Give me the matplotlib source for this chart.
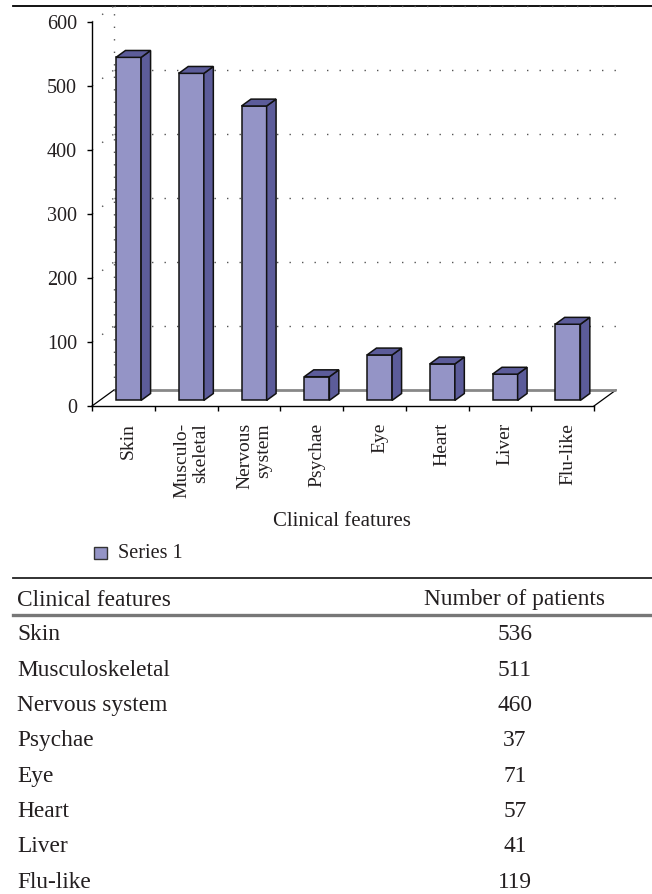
import matplotlib
matplotlib.use("Agg")
import matplotlib.pyplot as plt
import matplotlib.transforms as mtransforms

# --- data ---
categories = ["Skin", "Musculo-\nskeletal", "Nervous\nsystem", "Psychae",
              "Eye", "Heart", "Liver", "Flu-like"]
patients = [536, 511, 460, 37, 71, 57, 41, 119]
table_features = ["Skin", "Musculoskeletal", "Nervous system", "Psychae",
                  "Eye", "Heart", "Liver", "Flu-like"]
y_ticks = [0, 100, 200, 300, 400, 500, 600]
series_name = "Series 1"
x_title = "Clinical features"
table_header = ["Clinical features", "Number of patients"]

# --- style ---
plt.rcParams['font.family'] = ['Liberation Serif', 'DejaVu Serif']
txt_color = '#231f20'
front_col = '#9494c6'
dark_col = '#5c5c9a'
W, H = 652, 894

fig = plt.figure(figsize=(W / 100, H / 100), dpi=100)
fig.patch.set_facecolor('white')

# overlay axes in pixel units for page rules, legend and table
ov = fig.add_axes([0, 0, 1, 1])
ov.set_xlim(0, W)
ov.set_ylim(H, 0)
ov.axis('off')

# chart axes: front plane of the pseudo-3D chart
x0px, x1px, y0px, y1px = 92, 594, 406, 22
ax = fig.add_axes([x0px / W, 1 - y0px / H, (x1px - x0px) / W, (y0px - y1px) / H])
n = len(categories)
ax.set_xlim(0, n)
ax.set_ylim(0, 600)
ax.patch.set_alpha(0)

# depth of the 3D box in data units (22 px right, 16 px up)
DX = 22 * n / (x1px - x0px)
DY = 16 * 600 / (y0px - y1px)

# floor
ax.fill([0, n, n + DX, DX], [0, 0, DY, DY], facecolor='white', edgecolor='none',
        zorder=1, clip_on=False)
ax.plot([0, DX], [0, DY], color='black', lw=0.9, zorder=2, clip_on=False)
ax.plot([n, n + DX], [0, DY], color='black', lw=0.9, zorder=2, clip_on=False)
ax.plot([DX, n + DX], [DY, DY], color='#888888', lw=2.0, zorder=2,
        solid_capstyle='butt', clip_on=False)

# back wall and side wall dotted gridlines
dot = dict(color='#555555', lw=1.0, linestyle=(0, (1, 8)), zorder=1, clip_on=False)
for v in y_ticks[1:]:
    ax.plot([DX, n + DX], [v + DY, v + DY], **dot)
    ax.plot([0, DX], [v, v + DY], **dot)
ax.plot([DX, DX], [DY, 600 + DY], **dot)

# bars
f0, f1 = 0.35, 0.78
bw = 0.4
ddx, ddy = (f1 - f0) * DX, (f1 - f0) * DY
lab_tr = mtransforms.blended_transform_factory(ax.transData, ax.transAxes)
for i, v in enumerate(patients):
    bx = i + 0.26 + f0 * DX
    by = f0 * DY
    ec = dict(edgecolor='#111111', linewidth=1.1, joinstyle='miter', zorder=3, clip_on=False)
    ax.fill([bx, bx + bw, bx + bw, bx], [by, by, by + v, by + v], facecolor=front_col, **ec)
    ax.fill([bx + bw, bx + bw + ddx, bx + bw + ddx, bx + bw],
            [by, by + ddy, by + v + ddy, by + v], facecolor=dark_col, **ec)
    ax.fill([bx, bx + bw, bx + bw + ddx, bx + ddx],
            [by + v, by + v, by + v + ddy, by + v + ddy], facecolor=dark_col, **ec)
    # category label under the bar
    ax.text(bx + bw / 2, -0.044, categories[i], rotation=90, ha='center', va='top',
            multialignment='right', fontsize=14, color=txt_color, linespacing=1.15,
            transform=lab_tr)

# axes, ticks
for s in ['top', 'right']:
    ax.spines[s].set_visible(False)
for s in ['left', 'bottom']:
    ax.spines[s].set_linewidth(1.0)
    ax.spines[s].set_zorder(4)
ax.set_xticks(range(n + 1))
ax.set_xticklabels([])
ax.set_yticks(y_ticks)
ax.set_yticklabels([str(t) for t in y_ticks])
ax.tick_params(axis='both', direction='out', length=3.8, width=1.0, color='black')
ax.tick_params(axis='y', labelsize=14.5, labelcolor=txt_color, pad=7)

ov.text(342, 521, x_title, ha='center', va='center', fontsize=15, color=txt_color)

# legend
ov.add_patch(plt.Rectangle((94, 547), 13, 12, facecolor=front_col, edgecolor='#333333', lw=1.0))
ov.text(118, 553, series_name, ha='left', va='center', fontsize=14.5, color=txt_color)

# page rules
ov.plot([13, 652], [6, 6], color='black', lw=1.3)
ov.plot([13, 652], [578, 578], color='#222222', lw=1.3)
ov.plot([13, 652], [615, 615], color='#777777', lw=2.4)

# table
fs_tab = 16.8
ov.text(17, 600, table_header[0], ha='left', va='center', fontsize=fs_tab, color=txt_color)
ov.text(515, 600, table_header[1], ha='center', va='center', fontsize=fs_tab, color=txt_color)
row_y0, row_dy = 635, 35.3
for k, (name, val) in enumerate(zip(table_features, patients)):
    yy = row_y0 + k * row_dy
    ov.text(17, yy, name, ha='left', va='center', fontsize=fs_tab, color=txt_color)
    ov.text(515, yy, str(val), ha='center', va='center', fontsize=fs_tab, color=txt_color)

fig.savefig("out.png", dpi=100)
